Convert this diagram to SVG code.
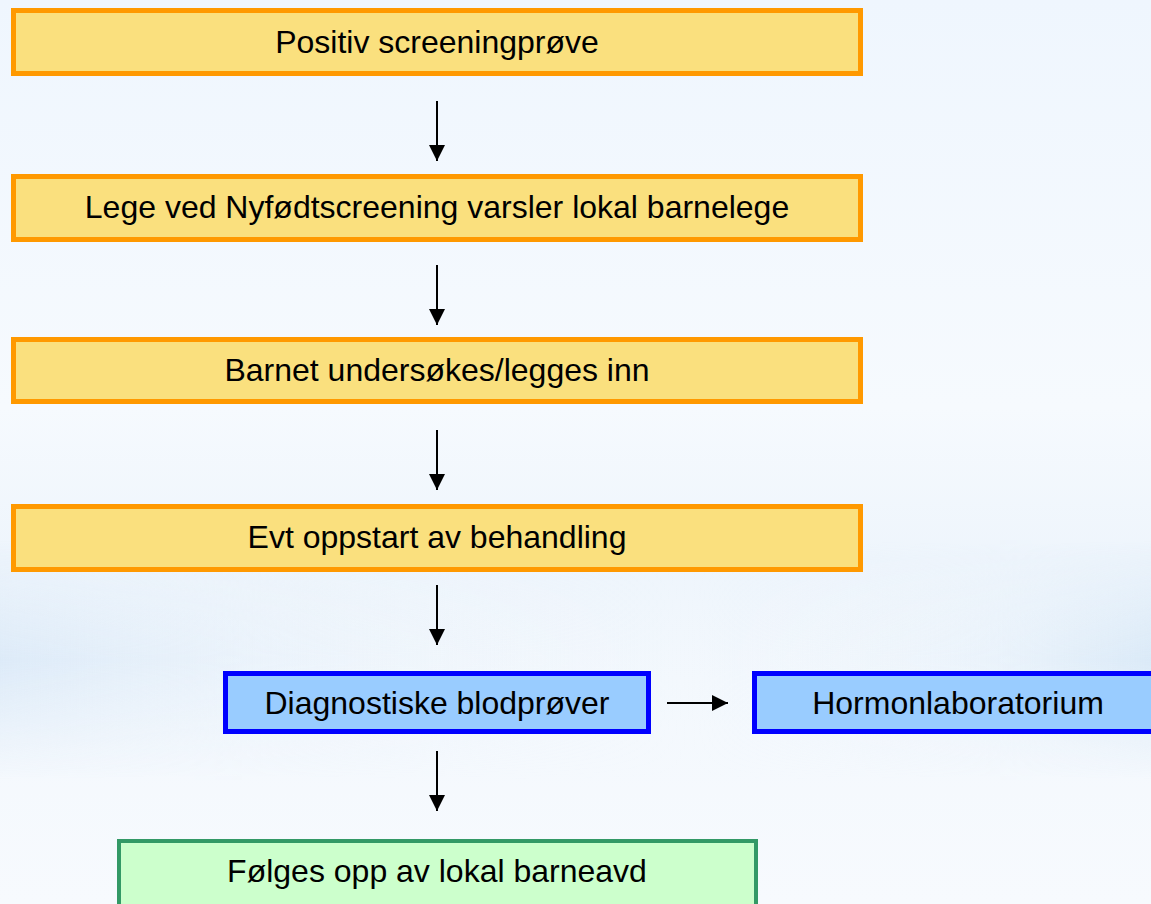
<svg xmlns="http://www.w3.org/2000/svg" width="1151" height="904" viewBox="0 0 1151 904">
  <defs>
    <style>
      .lbl { font-family: "Liberation Sans", Arial, sans-serif; font-size: 32px; fill: #000; text-anchor: middle; }
      .orange rect { fill: #FAE07E; stroke: #FF9900; stroke-width: 5; }
      .blue rect { fill: #99CCFF; stroke: #0000FF; stroke-width: 5; }
      .green rect { fill: #CCFFCC; stroke: #339966; stroke-width: 4; }
      .conn line { stroke: #000; stroke-width: 2; fill: none; }
    </style>
    <marker id="ah" markerUnits="userSpaceOnUse" viewBox="0 0 16 16" markerWidth="16" markerHeight="16" refX="16" refY="8" orient="auto">
      <path d="M0,0 L16,8 L0,16 z" fill="#000"/>
    </marker>
    <linearGradient id="bg" x1="0" y1="0" x2="0" y2="1">
      <stop offset="0" stop-color="#EFF6FE"/>
      <stop offset="0.45" stop-color="#F6FAFE"/>
      <stop offset="0.62" stop-color="#EEF5FC"/>
      <stop offset="0.75" stop-color="#F3F8FD"/>
      <stop offset="1" stop-color="#F7FAFE"/>
    </linearGradient>
    <linearGradient id="band" x1="0" y1="0" x2="1" y2="0">
      <stop offset="0" stop-color="#D9E8F7" stop-opacity="0.85"/>
      <stop offset="0.3" stop-color="#E6F0FA" stop-opacity="0.35"/>
      <stop offset="0.6" stop-color="#F2F7FD" stop-opacity="0"/>
      <stop offset="0.85" stop-color="#E2EEF9" stop-opacity="0.45"/>
      <stop offset="1" stop-color="#D6E7F6" stop-opacity="0.85"/>
    </linearGradient>
    <linearGradient id="bandv" x1="0" y1="0" x2="0" y2="1">
      <stop offset="0" stop-color="#fff" stop-opacity="0"/>
      <stop offset="0.5" stop-color="#fff" stop-opacity="1"/>
      <stop offset="1" stop-color="#fff" stop-opacity="0"/>
    </linearGradient>
    <mask id="bm">
      <rect x="0" y="540" width="1151" height="240" fill="url(#bandv)"/>
    </mask>
  </defs>

  <rect x="0" y="0" width="1151" height="904" fill="url(#bg)"/>
  <rect x="0" y="540" width="1151" height="240" fill="url(#band)" mask="url(#bm)"/>

  <g id="node-positiv" class="orange">
    <rect x="13.5" y="10.5" width="847" height="63"/>
    <text class="lbl" x="437" y="53">Positiv screeningprøve</text>
  </g>
  <g id="node-lege" class="orange">
    <rect x="13.5" y="176.5" width="847" height="63"/>
    <text class="lbl" x="437" y="218">Lege ved Nyfødtscreening varsler lokal barnelege</text>
  </g>
  <g id="node-barnet" class="orange">
    <rect x="13.5" y="339.5" width="847" height="62"/>
    <text class="lbl" x="437" y="381">Barnet undersøkes/legges inn</text>
  </g>
  <g id="node-evt" class="orange">
    <rect x="13.5" y="506.5" width="847" height="63"/>
    <text class="lbl" x="437" y="548">Evt oppstart av behandling</text>
  </g>
  <g id="node-diag" class="blue">
    <rect x="225.5" y="673.5" width="423" height="58"/>
    <text class="lbl" x="437" y="714">Diagnostiske blodprøver</text>
  </g>
  <g id="node-hormon" class="blue">
    <rect x="754.5" y="673.5" width="410" height="58"/>
    <text class="lbl" x="958" y="714">Hormonlaboratorium</text>
  </g>
  <g id="node-folges" class="green">
    <rect x="119" y="841" width="637" height="80"/>
    <text class="lbl" x="437" y="882">Følges opp av lokal barneavd</text>
  </g>

  <g id="connectors" class="conn">
    <line x1="437" y1="101" x2="437" y2="161" marker-end="url(#ah)"/>
    <line x1="437" y1="265" x2="437" y2="325" marker-end="url(#ah)"/>
    <line x1="437" y1="430" x2="437" y2="490" marker-end="url(#ah)"/>
    <line x1="437" y1="585" x2="437" y2="645" marker-end="url(#ah)"/>
    <line x1="437" y1="751" x2="437" y2="811" marker-end="url(#ah)"/>
    <line x1="667" y1="703" x2="728" y2="703" marker-end="url(#ah)"/>
  </g>
</svg>
